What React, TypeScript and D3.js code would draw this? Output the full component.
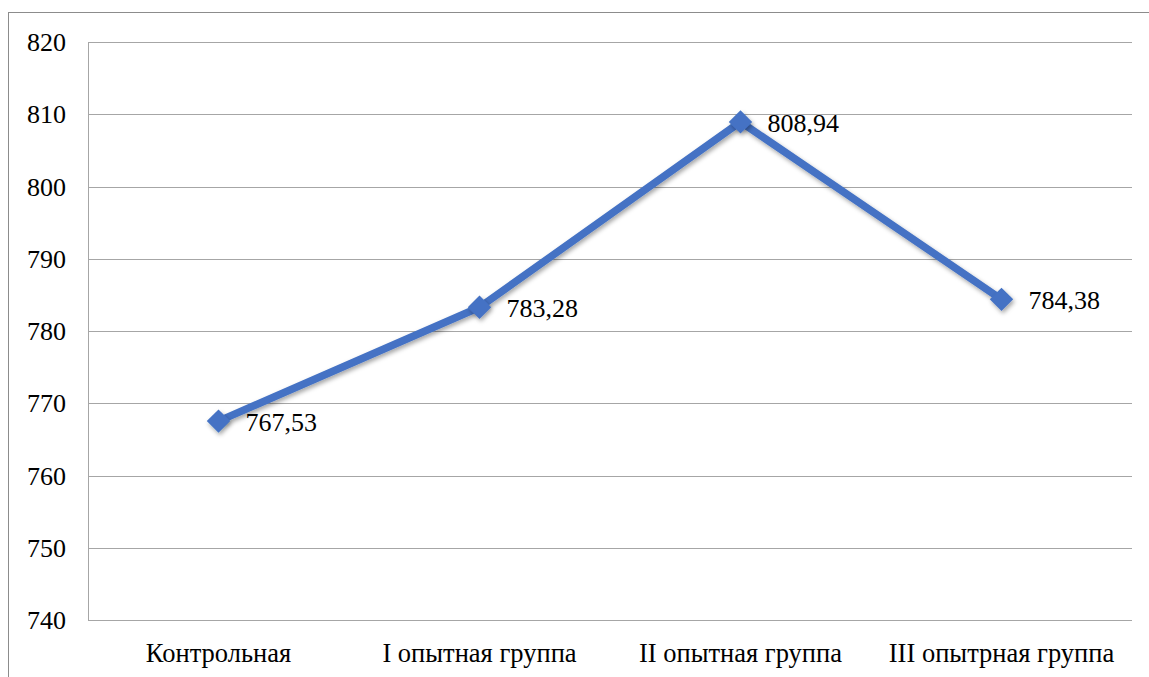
import React from "react";
import * as d3 from "d3";

const categories = ["Контрольная", "I опытная группа", "II опытная группа", "III опытрная группа"];
const values = [767.53, 783.28, 808.94, 784.38];
const labels = ["767,53", "783,28", "808,94", "784,38"];
const yTicks = [740, 750, 760, 770, 780, 790, 800, 810, 820];

const W = 1149;
const H = 677;
const plot = { left: 88, right: 1132, top: 42, bottom: 620 };
const FONT = "'Liberation Serif', 'Times New Roman', serif";
const BLUE = "#4472C4";

export default function App() {
  const x = d3.scaleBand<string>().domain(categories).range([plot.left, plot.right]);
  const y = d3.scaleLinear().domain([740, 820]).range([plot.bottom, plot.top]);
  const cx = (c: string) => (x(c) ?? 0) + x.bandwidth() / 2;
  const line = d3
    .line<number>()
    .x((_, i) => cx(categories[i]))
    .y((d) => y(d));
  const diamond = d3.symbol().type(d3.symbolDiamond2).size(350)();

  return (
    <svg
      width={W}
      height={H}
      style={{ position: "absolute", left: 0, top: 0, background: "#fff" }}
    >
      <defs>
        <filter id="sh" x="-50%" y="-50%" width="200%" height="200%">
          <feDropShadow dx="1.5" dy="2.5" stdDeviation="2" floodColor="#000" floodOpacity="0.35" />
        </filter>
      </defs>
      <rect x={8.5} y={12.5} width={W + 10} height={H + 10} fill="#fff" stroke="#8c8c8c" strokeWidth={1} />
      {yTicks.map((t) => (
        <g key={t}>
          <line
            x1={plot.left}
            x2={plot.right}
            y1={Math.round(y(t)) + 0.5}
            y2={Math.round(y(t)) + 0.5}
            stroke="#a6a6a6"
            strokeWidth={1}
          />
          <text
            x={66}
            y={y(t)}
            dy="0.35em"
            textAnchor="end"
            style={{ fontFamily: FONT, fontSize: 26 }}
            fill="#000"
          >
            {t}
          </text>
        </g>
      ))}
      <line x1={plot.left + 0.5} x2={plot.left + 0.5} y1={plot.top} y2={plot.bottom} stroke="#a6a6a6" />
      {categories.map((c) => (
        <text
          key={c}
          x={cx(c)}
          y={662}
          textAnchor="middle"
          style={{ fontFamily: FONT, fontSize: 26.5 }}
          fill="#000"
        >
          {c}
        </text>
      ))}
      <path
        d={line(values) ?? ""}
        fill="none"
        stroke={BLUE}
        strokeWidth={7.5}
        strokeLinejoin="round"
        filter="url(#sh)"
      />
      {values.map((v, i) => (
        <path
          key={i}
          d={diamond ?? ""}
          transform={`translate(${cx(categories[i])},${y(v)})`}
          fill={BLUE}
          filter="url(#sh)"
        />
      ))}
      {values.map((v, i) => (
        <text
          key={"l" + i}
          x={cx(categories[i]) + 27}
          y={y(v) + 1}
          dy="0.35em"
          style={{ fontFamily: FONT, fontSize: 26 }}
          fill="#000"
        >
          {labels[i]}
        </text>
      ))}
    </svg>
  );
}
